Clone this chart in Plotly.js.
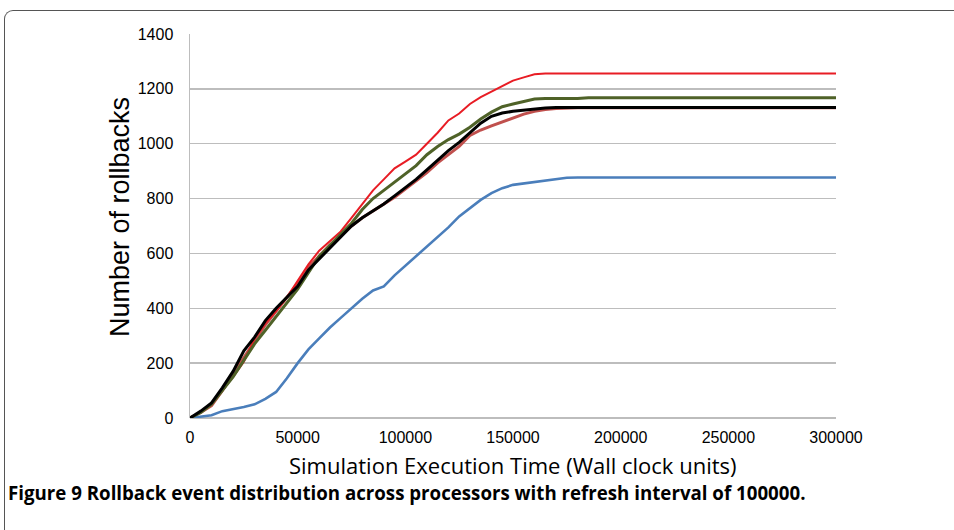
<!DOCTYPE html>
<html>
<head>
<meta charset="utf-8">
<script src="https://cdn.plot.ly/plotly-3.0.1.min.js"></script>
<style>
html,body{margin:0;padding:0;background:#fff;overflow:hidden;}
#chart{width:954px;height:530px;}
#frame{position:absolute;left:4px;top:10px;width:1000px;height:600px;border-top:1.5px solid #555;border-left:1.5px solid #555;border-top-left-radius:9px;pointer-events:none;}
</style>
</head>
<body>
<div id="chart"></div>
<div id="frame"></div>
<script>
// x values (wall clock units)
const xTime = [0,5000,10000,15000,20000,25000,30000,35000,40000,45000,50000,55000,60000,65000,70000,75000,80000,85000,90000,95000,100000,105000,110000,115000,120000,125000,130000,135000,140000,145000,150000,155000,160000,165000,170000,175000,180000,185000,190000,200000,250000,300000];

const blueSeries  = [0,5,10,25,32,40,50,70,95,145,200,250,290,330,365,400,435,465,480,520,555,590,625,660,695,735,765,795,820,838,850,855,860,865,872,876,877,877,877,877,877,877];
const redSeries   = [0,22,50,100,150,205,290,345,390,440,500,560,610,645,680,730,780,830,870,910,935,960,1000,1040,1085,1110,1145,1170,1190,1210,1230,1242,1253,1256,1256,1256,1256,1256,1256,1256,1256,1256];
const brownSeries = [0,20,45,100,160,220,280,340,390,440,490,550,590,630,665,700,730,755,780,805,835,865,895,930,960,990,1030,1050,1065,1080,1095,1108,1118,1125,1128,1130,1131,1131,1131,1131,1131,1131];
const greenSeries = [0,20,50,100,150,210,270,320,370,420,470,530,590,630,670,710,760,800,830,860,890,920,960,990,1015,1035,1060,1090,1115,1135,1145,1155,1163,1165,1165,1163,1165,1168,1168,1168,1168,1168];
const blackSeries = [0,25,55,110,170,245,295,355,400,440,480,540,580,620,660,700,730,755,780,810,840,870,905,940,975,1005,1040,1075,1100,1112,1118,1122,1127,1130,1132,1132,1132,1132,1132,1132,1132,1132];

const xTicks = [0,50000,100000,150000,200000,250000,300000];
const yTicks = [0,200,400,600,800,1000,1200,1400];

const xTitle = "Simulation Execution Time (Wall clock units)";
const yTitle = "Number of rollbacks";
const caption = "Figure 9 Rollback event distribution across processors with refresh interval of 100000.";

function tr(y, color, w){
  return {x:xTime, y:y, type:'scatter', mode:'lines', line:{color:color, width:w, shape:'linear'}, hoverinfo:'skip'};
}

const data = [
  tr(brownSeries,'rgb(192,80,77)',3),
  tr(blueSeries,'rgb(74,126,187)',2.6),
  tr(redSeries,'rgb(232,28,36)',2),
  tr(greenSeries,'rgb(79,98,40)',3),
  tr(blackSeries,'rgb(0,0,0)',3)
];

// pixel -> paper helpers for text placement
const L=190, R=836, T=34, B=418;
const px = v => (v-L)/(R-L);
const py = v => (B-v)/(B-T);

const layout = {
  width:954, height:530,
  margin:{l:L, r:954-R, t:T, b:530-B},
  paper_bgcolor:'#fff', plot_bgcolor:'#fff',
  showlegend:false,
  font:{family:'"Liberation Sans", Arial, sans-serif', color:'#000'},
  xaxis:{
    range:[0,300000], tickvals:xTicks, ticktext:xTicks.map(String),
    showgrid:false, zeroline:false, showline:false, ticks:'',
    tickfont:{size:16, color:'#000'}, ticklabelstandoff:8
  },
  yaxis:{
    range:[0,1400], tickvals:yTicks, ticktext:yTicks.map(String),
    showgrid:true, gridcolor:'#BDBDBD', gridwidth:1.5,
    zeroline:true, zerolinecolor:'#BDBDBD', zerolinewidth:1.5,
    showline:true, linecolor:'#BDBDBD', linewidth:1.5, ticks:'',
    tickfont:{size:16, color:'#000'}, ticklabelstandoff:12
  },
  annotations:[
    {text:xTitle, xref:'paper', yref:'paper', x:px(513), y:py(465), xanchor:'center', yanchor:'middle',
     showarrow:false, font:{family:'"Open Sans", sans-serif', size:22, color:'#000'}},
    {text:yTitle, xref:'paper', yref:'paper', x:px(120), y:py(217), xanchor:'center', yanchor:'middle', textangle:-90,
     showarrow:false, font:{family:'"Liberation Sans", Arial, sans-serif', size:27, color:'#000'}},
    {text:'<b>'+caption+'</b>', xref:'paper', yref:'paper',
     x:px(6), y:py(492), xanchor:'left', yanchor:'middle',
     showarrow:false, font:{family:'"Open Sans", sans-serif', size:18.7, color:'#000'}}
  ]
};

Plotly.newPlot('chart', data, layout, {displayModeBar:false, staticPlot:true});
</script>
</body>
</html>
